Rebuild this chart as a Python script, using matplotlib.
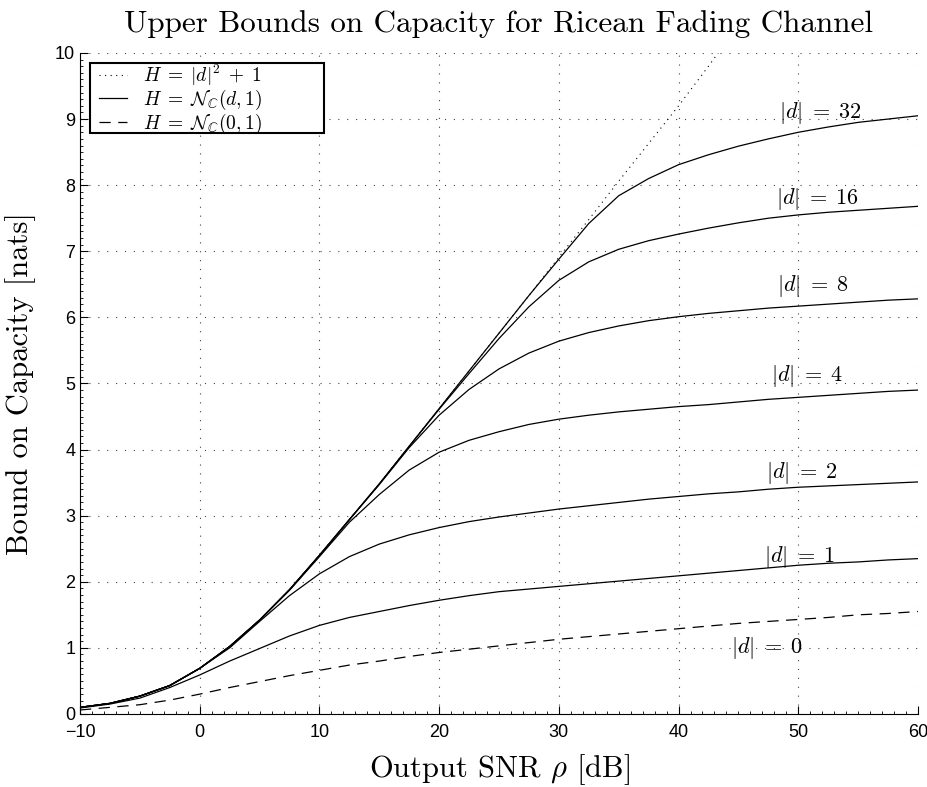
import numpy as np
import matplotlib
matplotlib.use("Agg")
import matplotlib.pyplot as plt
from matplotlib.ticker import MultipleLocator
from matplotlib.patches import Rectangle

plt.rcParams['mathtext.fontset'] = 'cm'

# SNR en dB
snr = [-10, -7.5, -5, -2.5, 0, 2.5, 5, 7.5, 10, 12.5, 15, 17.5, 20, 22.5,
       25, 27.5, 30, 32.5, 35, 37.5, 40, 42.5, 45, 47.5, 50, 52.5, 55, 57.5, 60]

# H = |d|^2 + 1 (cota punteada)
snr_awgn = [-10, -7.5, -5, -2.5, 0, 2.5, 5, 7.5, 10, 12.5, 15, 17.5, 20, 22.5,
            25, 27.5, 30, 32.5, 35, 37.5, 40, 42.5, 44.5]
cap_awgn = [0.10, 0.16, 0.27, 0.43, 0.69, 1.02, 1.42, 1.88, 2.40, 2.94, 3.48,
            4.05, 4.62, 5.19, 5.76, 6.33, 6.91, 7.48, 8.06, 8.63, 9.20, 9.80, 10.3]

# H = N_C(d,1) para varios |d|
cap_d32 = [0.10, 0.16, 0.27, 0.43, 0.69, 1.02, 1.42, 1.88, 2.40, 2.94, 3.48,
           4.05, 4.62, 5.19, 5.76, 6.33, 6.88, 7.42, 7.84, 8.10, 8.31, 8.46,
           8.59, 8.70, 8.80, 8.88, 8.95, 9.00, 9.05]
cap_d16 = [0.10, 0.16, 0.27, 0.43, 0.69, 1.02, 1.42, 1.88, 2.40, 2.94, 3.48,
           4.05, 4.61, 5.15, 5.68, 6.16, 6.56, 6.84, 7.03, 7.16, 7.26, 7.35,
           7.43, 7.50, 7.55, 7.59, 7.62, 7.65, 7.68]
cap_d8 = [0.10, 0.16, 0.27, 0.43, 0.69, 1.02, 1.42, 1.88, 2.40, 2.94, 3.47,
          4.03, 4.52, 4.91, 5.22, 5.46, 5.64, 5.77, 5.87, 5.95, 6.01, 6.06,
          6.10, 6.14, 6.17, 6.20, 6.23, 6.26, 6.28]
cap_d4 = [0.10, 0.16, 0.27, 0.43, 0.69, 1.02, 1.42, 1.87, 2.38, 2.90, 3.32,
          3.69, 3.96, 4.14, 4.27, 4.38, 4.46, 4.52, 4.57, 4.61, 4.65, 4.68,
          4.72, 4.76, 4.79, 4.82, 4.85, 4.88, 4.90]
cap_d2 = [0.10, 0.16, 0.27, 0.43, 0.69, 1.00, 1.40, 1.79, 2.12, 2.38, 2.57,
          2.71, 2.82, 2.91, 2.98, 3.04, 3.10, 3.15, 3.20, 3.25, 3.29, 3.33,
          3.36, 3.40, 3.43, 3.45, 3.47, 3.49, 3.51]
cap_d1 = [0.09, 0.15, 0.24, 0.40, 0.59, 0.80, 0.99, 1.18, 1.34, 1.46, 1.55,
          1.64, 1.72, 1.79, 1.85, 1.89, 1.93, 1.97, 2.01, 2.05, 2.09, 2.13,
          2.17, 2.21, 2.25, 2.28, 2.30, 2.33, 2.35]

# H = N_C(0,1) (Rayleigh, discontinua)
cap_d0 = [0.06, 0.10, 0.14, 0.21, 0.30, 0.40, 0.49, 0.58, 0.66, 0.74, 0.80,
          0.87, 0.93, 0.98, 1.03, 1.08, 1.13, 1.17, 1.21, 1.25, 1.29, 1.33,
          1.37, 1.40, 1.43, 1.46, 1.50, 1.52, 1.55]

etiquetas = [r'$|d|\;=\;32$', r'$|d|\;=\;16$', r'$|d|\;=\;8$', r'$|d|\;=\;4$',
             r'$|d|\;=\;2$', r'$|d|\;=\;1$', r'$|d|\;=\;0$']
etiq_x = [48.4, 48.1, 48.2, 47.7, 47.3, 47.1, 44.4]
etiq_y = [9.09, 7.79, 6.47, 5.12, 3.65, 2.37, 1.00]

fig = plt.figure(figsize=(9.28, 7.87), dpi=100)
ax = fig.add_axes([0.0862, 0.0928, 0.9030, 0.8399])

lw = 0.9
ax.plot(snr_awgn, cap_awgn, color='k', lw=0.8, linestyle=(0, (1, 4)),
        label=r'$H\;=\;|d|^2\;+\;1$')
ax.plot(snr, cap_d32, 'k-', lw=lw, label=r'$H\;=\;\mathcal{N}_{\mathbb{C}}(d,1)$')
for c in [cap_d16, cap_d8, cap_d4, cap_d2, cap_d1]:
    ax.plot(snr, c, 'k-', lw=lw)
ax.plot(snr, cap_d0, color='k', lw=lw, linestyle=(0, (9, 6)),
        label=r'$H\;=\;\mathcal{N}_{\mathbb{C}}(0,1)$')

for t, x, y in zip(etiquetas, etiq_x, etiq_y):
    ax.text(x, y, t, fontsize=16, ha='left', va='center')

ax.set_xlim(-10, 60)
ax.set_ylim(0, 10)
ax.xaxis.set_major_locator(MultipleLocator(10))
ax.xaxis.set_minor_locator(MultipleLocator(1))
ax.yaxis.set_major_locator(MultipleLocator(1))
ax.yaxis.set_minor_locator(MultipleLocator(0.1))
ax.tick_params(which='major', direction='in', length=6, width=0.8, labelsize=13)
ax.tick_params(which='minor', direction='in', length=2.5, width=0.6)
ax.tick_params(axis='x', which='major', pad=7)
for lab in ax.get_xticklabels() + ax.get_yticklabels():
    lab.set_family('Liberation Sans')
ax.spines['top'].set_visible(False)
ax.spines['right'].set_visible(False)
ax.grid(True, which='major', color='#444444', lw=0.8, linestyle=(0, (1, 7)))

ax.set_title('Upper Bounds on Capacity for Ricean Fading Channel',
             family='cmr10', fontsize=22.4, pad=15)
ax.set_xlabel(r'Output SNR $\rho$ [dB]', family='cmr10', fontsize=22, labelpad=8)
ax.set_ylabel('Bound on Capacity [nats]', family='cmr10', fontsize=22, labelpad=14)

# leyenda sin marco, con recuadro propio como en la figura original
leg = ax.legend(loc='upper left', bbox_to_anchor=(0.019, 0.990), fontsize=14,
                frameon=False, labelspacing=0.0, handlelength=1.45,
                borderpad=0.15, handletextpad=0.8, borderaxespad=0.0)
leg.set_zorder(6)
caja = Rectangle((0.0119, 0.879), 0.2793, 0.106, transform=ax.transAxes,
                 facecolor='white', edgecolor='k', lw=1.5, zorder=5)
ax.add_patch(caja)

fig.savefig('out.png', dpi=100)
